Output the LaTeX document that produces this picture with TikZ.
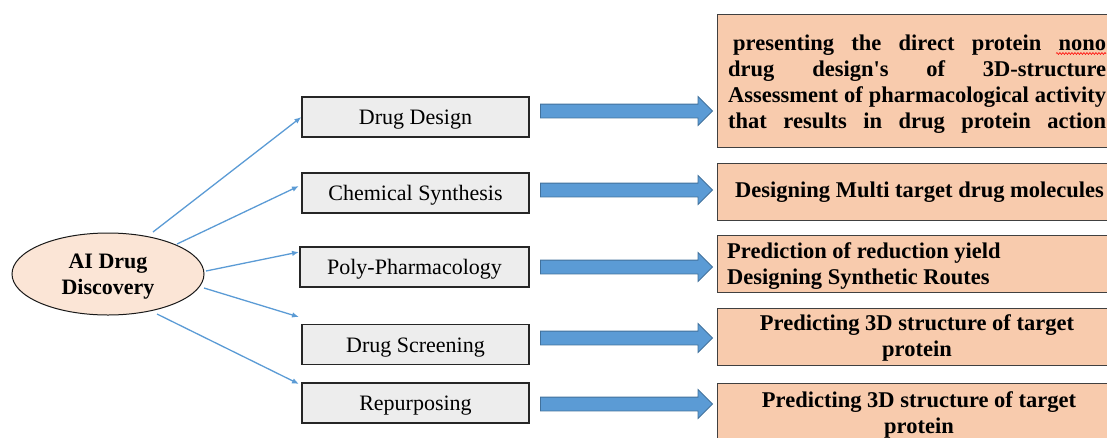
\documentclass[tikz,border=0pt]{standalone}
\usepackage{fontspec}
\setmainfont{Liberation Serif}
\usetikzlibrary{shapes.geometric,shapes.arrows,arrows.meta,decorations.pathmorphing}
\definecolor{lineblue}{HTML}{5B9BD5}
\definecolor{arrowedge}{HTML}{41719C}
\definecolor{orangefill}{HTML}{F8CBAD}
\definecolor{greyfill}{HTML}{EDEDED}
\definecolor{ellfill}{HTML}{FBE5D6}
\begin{document}
\begin{tikzpicture}[x=1pt,y=-1pt,
  greybox/.style={draw=black!85, line width=1.2pt, fill=greyfill, minimum width=227pt, minimum height=40pt,
    inner sep=0pt, text height=18pt, text depth=3pt, font=\fontsize{22}{26}\selectfont},
  orangebox/.style={draw=black!75, line width=1.2pt, fill=orangefill, inner sep=0pt, anchor=north west, minimum width=420pt},
  otext/.style={inner sep=0pt, font=\fontsize{22.5}{26}\selectfont\bfseries},
  blockarrow/.style={single arrow, draw=arrowedge, line width=0.8pt, fill=lineblue, minimum height=172pt,
    minimum width=28pt, single arrow head extend=7.5pt, inner xsep=0pt, inner ysep=6.5pt},
  thinarrow/.style={draw=lineblue, line width=1.3pt, -{Latex[length=7pt,width=5.5pt]}}
]
\useasboundingbox (0,0) rectangle (1107,437);
\clip (0,0) rectangle (1107,437);

% central ellipse
\node[ellipse, draw=black!90, line width=1pt, fill=ellfill, minimum width=192pt, minimum height=82pt,
  inner sep=0pt] (ai) at (108,274) {};
\node[inner sep=0pt, anchor=base, font=\fontsize{22}{26}\selectfont\bfseries] (aitxt) at (108,268)
  {\vtop{\hsize=150pt \hbox to\hsize{\hfil AI Drug\hfil}\hbox to\hsize{\hfil Discovery\hfil}}};

% grey boxes
\node[greybox] (dd) at (415.5,117) {Drug Design};
\node[greybox] (cs) at (415.5,193) {Chemical Synthesis};
\node[greybox, minimum width=229pt] (pp) at (414.5,267) {Poly-Pharmacology};
\node[greybox] (ds) at (415.5,344.5) {Drug Screening};
\node[greybox] (rp) at (415.5,403) {Repurposing};

% block arrows
\node[blockarrow] (ba1) at (623,111) {};
\node[blockarrow] (ba2) at (623,190) {};
\node[blockarrow] (ba3) at (623,267) {};
\node[blockarrow] (ba4) at (623,338) {};
\node[blockarrow] (ba5) at (623,404) {};

% orange boxes
\node[orangebox, minimum height=133pt] (o1) at (717,14) {};
\node[orangebox, minimum height=57pt] (o2) at (717,163) {};
\node[orangebox, minimum height=57pt] (o3) at (717,235) {};
\node[orangebox, minimum height=57pt] (o4) at (717,308) {};
\node[orangebox, minimum height=80pt] (o5) at (717,383) {};

% texts of orange boxes
\node[otext, anchor=base west] (t1) at (728,50) {\vtop{\hsize=378pt
  \hbox to\hsize{\hspace*{5pt}presenting\hfill the\hfill direct\hfill protein\hfill nono}
  \hbox to\hsize{drug\hfill design\textquotesingle s\hfill of\hfill 3D-structure}
  \hbox to\hsize{Assessment\hfill of\hfill pharmacological\hfill activity}
  \hbox to\hsize{that\hfill results\hfill in\hfill drug\hfill protein\hfill action}}};
\draw[red, line width=0.6pt, decorate, decoration={snake, amplitude=0.9pt, segment length=3pt}] (1056,53.5) -- (1106,53.5);

\node[otext, anchor=base west] (t2) at (735,197) {Designing Multi target drug molecules};
\node[otext, anchor=base west] (t3) at (727,258) {\vtop{\hbox{Prediction of reduction yield}\hbox{Designing Synthetic Routes}}};
\node[otext, anchor=base] (t4) at (917,330) {\vtop{\hsize=400pt
  \hbox to\hsize{\hfil Predicting 3D structure of target\hfil}
  \hbox to\hsize{\hfil protein\hfil}}};
\node[otext, anchor=base] (t5) at (919,407) {\vtop{\hsize=400pt
  \hbox to\hsize{\hfil Predicting 3D structure of target\hfil}
  \hbox to\hsize{\hfil protein\hfil}}};

% thin connectors
\coordinate (s1) at (153,232);
\coordinate (s2) at (177,244);
\coordinate (s3) at (206,271);
\coordinate (s4) at (204,288);
\coordinate (s5) at (157,314);
\coordinate (e2) at (299,186);
\coordinate (e3) at (299,252);
\coordinate (e4) at (299,317);
\coordinate (e5) at (299,384);
\draw[thinarrow] (s1) -- (dd.west);
\draw[thinarrow] (s2) -- (e2);
\draw[thinarrow] (s3) -- (e3);
\draw[thinarrow] (s4) -- (e4);
\draw[thinarrow] (s5) -- (e5);
\end{tikzpicture}
\end{document}
